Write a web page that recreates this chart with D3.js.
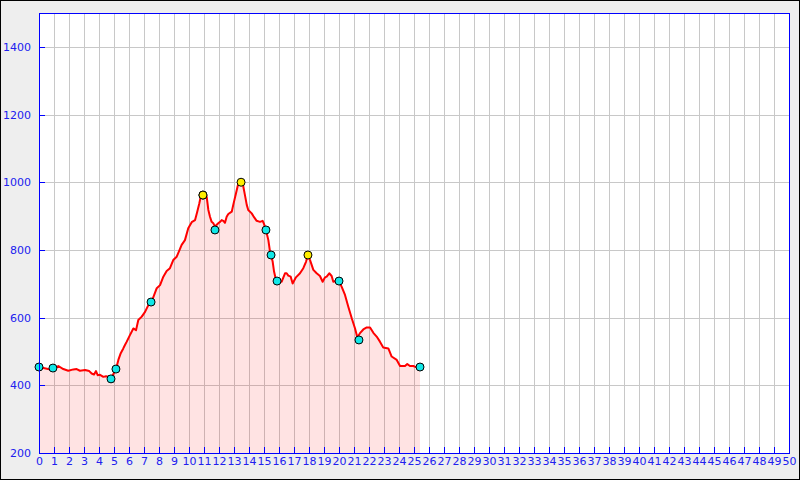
<!DOCTYPE html>
<html>
<head>
<meta charset="utf-8">
<script src="https://cdn.jsdelivr.net/npm/d3@7"></script>
<style>
  html, body { margin: 0; padding: 0; background: #eeeeee; }
  svg { display: block; }
</style>
</head>
<body>
<svg id="chart" width="800" height="480"></svg>
<script>
// Distance (km) and elevation (m) of the profile
const distance = [0,0.6,0.93,1.29,1.62,1.95,2.29,2.51,2.73,3.07,3.35,3.51,3.67,3.8,3.91,4.07,4.29,4.47,4.73,4.85,4.95,5.13,5.29,5.45,5.62,5.73,5.85,6.07,6.29,6.47,6.62,6.85,7.07,7.29,7.51,7.85,8.07,8.29,8.51,8.73,8.95,9.18,9.4,9.51,9.73,9.95,10.18,10.4,10.55,10.69,10.78,10.93,11.18,11.29,11.4,11.51,11.62,11.73,11.95,12.07,12.18,12.29,12.4,12.51,12.62,12.85,12.95,13.13,13.29,13.47,13.58,13.73,13.85,13.95,14.18,14.29,14.51,14.73,14.91,15,15.13,15.29,15.4,15.47,15.58,15.67,15.8,15.87,16.18,16.4,16.51,16.62,16.78,16.91,17.13,17.4,17.62,17.8,17.93,18.07,18.29,18.51,18.73,18.91,19.07,19.18,19.35,19.51,19.62,19.85,20,20.18,20.4,20.62,20.85,21.07,21.22,21.4,21.62,21.85,22.07,22.29,22.51,22.73,22.95,23.29,23.51,23.85,24.07,24.4,24.55,24.73,24.95,25.18,25.4];
const elevation = [454,448,446,457,448,443,447,448,443,445,442,435,432,442,430,431,425,427,424,423,433,447,475,495,509,519,529,549,568,563,593,603,617,637,647,687,696,721,738,746,770,780,803,815,829,864,882,888,913,938,957,962,957,918,898,883,879,869,879,883,888,886,880,898,906,913,933,967,997,1001,997,962,933,918,908,900,886,883,886,877,859,829,795,785,765,736,711,707,706,731,731,724,721,701,719,731,746,765,785,770,741,731,723,706,719,721,731,723,706,709,708,691,667,632,598,568,542,554,565,571,571,555,544,529,512,509,485,475,457,457,463,457,457,453,454];

// Waypoint markers
const cyanDist = [0,0.93,4.8,5.13,7.47,10.93,11.73,15.13,15.47,15.87,20,21.33,25.4];
const cyanElev = [454,451,419,448,646,962,859,859,785,708,708,534,454];
const yellowDist = [10.93,13.47,17.93];
const yellowElev = [962,1000,785];

// Axis ticks
const xTicks = d3.range(0, 51, 1);
const yTicks = [200,400,600,800,1000,1200,1400];

(function () {
const svg = d3.select("#chart");
const W = 800, H = 480;
const pL = 39, pR = 789, pT = 13, pB = 453;

svg.append("rect").attr("x",0.5).attr("y",0.5).attr("width",W-1).attr("height",H-1)
  .attr("fill","#eeeeee").attr("stroke","#000").attr("stroke-width",1);

const x = d3.scaleLinear().domain([0,50]).range([pL,pR]);
const y = d3.scaleLinear().domain([200,1500]).range([pB,pT]);

svg.append("rect").attr("x",pL).attr("y",pT).attr("width",pR-pL).attr("height",pB-pT)
  .attr("fill","#fff");

// grid
const grid = svg.append("g").attr("stroke","#c8c8c8").attr("stroke-width",1);
xTicks.filter(t => t > 0 && t < 50).forEach(t => {
  grid.append("line").attr("x1",Math.round(x(t))+0.5).attr("x2",Math.round(x(t))+0.5)
    .attr("y1",pT).attr("y2",pB);
});
yTicks.filter(t => t > 200).forEach(t => {
  grid.append("line").attr("y1",Math.round(y(t))+0.5).attr("y2",Math.round(y(t))+0.5)
    .attr("x1",pL).attr("x2",pR);
});

const pts = distance.map((d,i) => [d, elevation[i]]);

// area fill
const area = d3.area().x(d => x(d[0])).y0(pB).y1(d => y(d[1]));
svg.append("path").datum(pts).attr("d",area).attr("fill","#ff0000").attr("fill-opacity",0.11);

// line
const line = d3.line().x(d => x(d[0])).y(d => y(d[1]));
svg.append("path").datum(pts).attr("d",line).attr("fill","none")
  .attr("stroke","#ff0000").attr("stroke-width",2).attr("stroke-linejoin","round");

// markers
cyanDist.forEach((d,i) => {
  svg.append("circle").attr("cx",x(d)).attr("cy",y(cyanElev[i])).attr("r",4)
    .attr("fill","#11e8e8").attr("stroke","#000").attr("stroke-width",1);
});
yellowDist.forEach((d,i) => {
  svg.append("circle").attr("cx",x(d)).attr("cy",y(yellowElev[i])).attr("r",4)
    .attr("fill","#ffee00").attr("stroke","#000").attr("stroke-width",1);
});

// plot frame
svg.append("rect").attr("x",pL+0.5).attr("y",pT+0.5).attr("width",pR-pL).attr("height",pB-pT)
  .attr("fill","none").attr("stroke","#0000ff").attr("stroke-width",1);

// axes
const blue = "#2020ee";
const xAxis = d3.axisBottom(x).tickValues(xTicks).tickSize(0).tickPadding(4).tickFormat(d3.format("d"));
const gx = svg.append("g").attr("transform",`translate(0,${pB})`).call(xAxis);
gx.select(".domain").remove();
gx.selectAll("text").attr("fill",blue).style("font-family","'DejaVu Sans'").style("font-size","11px");

const yAxis = d3.axisLeft(y).tickValues(yTicks).tickSize(0).tickPadding(8).tickFormat(d3.format("d"));
const gy = svg.append("g").attr("transform",`translate(${pL},0)`).call(yAxis);
gy.select(".domain").remove();
gy.selectAll("text").attr("fill",blue).style("font-family","'DejaVu Sans'").style("font-size","11px");

// inward tick marks
const ticks = svg.append("g").attr("stroke","#0000ff").attr("stroke-width",1);
xTicks.forEach(t => {
  ticks.append("line").attr("x1",Math.round(x(t))+0.5).attr("x2",Math.round(x(t))+0.5)
    .attr("y1",pB).attr("y2",pB-6);
});
yTicks.forEach(t => {
  ticks.append("line").attr("x1",pL).attr("x2",pL+6)
    .attr("y1",Math.round(y(t))+0.5).attr("y2",Math.round(y(t))+0.5);
});
ticks.append("line").attr("x1",pL).attr("x2",pR+1).attr("y1",pB+0.5).attr("y2",pB+0.5);
})();
</script>
</body>
</html>
